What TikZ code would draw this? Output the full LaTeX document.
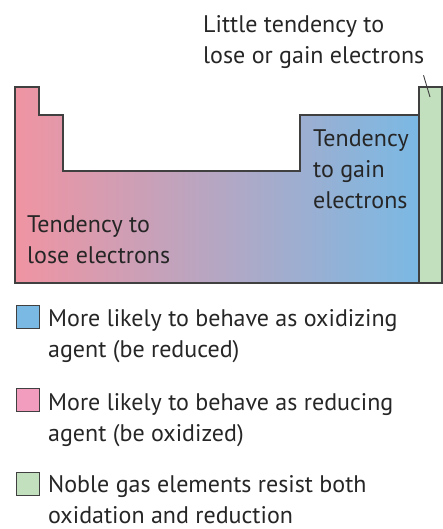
\documentclass[tikz,border=0pt]{standalone}
\usepackage{fontspec}
\setmainfont{PT Sans}
\usetikzlibrary{positioning}
\definecolor{losepink}{RGB}{240,148,162}
\definecolor{midmauve}{RGB}{204,172,198}
\definecolor{gainblue}{RGB}{122,185,228}
\definecolor{legpink}{RGB}{242,156,190}
\definecolor{noblegreen}{RGB}{194,224,190}
\definecolor{edge}{RGB}{64,64,64}
\tikzset{lbl/.style={align=left,inner sep=0pt,anchor=base west,text=black!85,font=\fontsize{24}{31}\selectfont},
legbox/.style={draw=edge,line width=1.2pt,minimum size=23pt,inner sep=0pt,anchor=north west}}
\begin{document}
\begin{tikzpicture}[x=1pt,y=-1pt]
\useasboundingbox(0,0)rectangle(443,529);
\filldraw[left color=losepink,middle color=midmauve,right color=gainblue,draw=edge,line width=1.2pt]
(15,87)--(39,87)--(39,115)--(63,115)--(63,171)--(300,171)--(300,115)--(419,115)--(419,283)--(15,283)--cycle;
\filldraw[fill=noblegreen,draw=edge,line width=1.2pt](419,87)rectangle(442,283);
\coordinate(ng)at(430,97);
\node[lbl](little)at(203,64){Little tendency to\\lose or gain electrons};
\draw[edge,line width=0.9pt]([xshift=-1pt,yshift=-6pt]little.south east)--(ng);
\node[lbl](lose)at(27,263){Tendency to\\lose electrons};
\node[lbl](gain)at(313,208){Tendency\\to gain\\electrons};
\node[legbox,fill=gainblue](b1)at(16,305){};
\node[legbox,fill=legpink](b2)at(16,388){};
\node[legbox,fill=noblegreen](b3)at(16,472){};
\node[lbl](t1)at(48,357){More likely to behave as oxidizing\\agent (be reduced)};
\node[lbl](t2)at(48,441){More likely to behave as reducing\\agent (be oxidized)};
\node[lbl](t3)at(48,523){Noble gas elements resist both\\oxidation and reduction};
\end{tikzpicture}
\end{document}
